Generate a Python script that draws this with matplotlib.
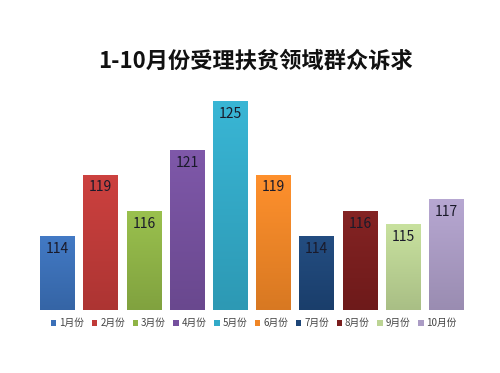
import numpy as np
import matplotlib
matplotlib.use("Agg")
import matplotlib.pyplot as plt
from matplotlib.patches import Patch
from matplotlib.colors import LinearSegmentedColormap, to_rgb

plt.rcParams['font.family'] = ['Noto Sans CJK SC', 'DejaVu Sans']

# data
months = ['1月份', '2月份', '3月份', '4月份', '5月份',
          '6月份', '7月份', '8月份', '9月份', '10月份']
counts = [114, 119, 116, 121, 125, 119, 114, 116, 115, 117]
colors = ['#3b70b8', '#c03a38', '#8fb446', '#75509e', '#32aac8',
          '#f08626', '#1d4577', '#7a1d1d', '#bcd494', '#ab9cc5']
title = '1-10月份受理扶贫领域群众诉求'

fig = plt.figure(figsize=(5, 3.73), dpi=100)
ax = fig.add_axes([0.072, 0.169, 0.864, 0.594])

x = np.arange(len(months))
bars = ax.bar(x, counts, width=0.81, color=colors, zorder=2)

# vertical gradient for each bar (slightly lighter top, darker bottom)
grad = np.linspace(0, 1, 100).reshape(-1, 1)
for b, c in zip(bars, colors):
    r, g, bl = to_rgb(c)
    light = tuple(min(1, v * 1.04 + 0.02) for v in (r, g, bl))
    dark = tuple(v * 0.9 for v in (r, g, bl))
    cmap = LinearSegmentedColormap.from_list('g', [dark, light])
    x0 = b.get_x()
    im = ax.imshow(grad, cmap=cmap, aspect='auto', origin='lower',
                   extent=[x0, x0 + b.get_width(), 108, b.get_height()],
                   zorder=3)
    im.set_clip_path(b)
    b.set_facecolor('none')

for xi, v in zip(x, counts):
    ax.text(xi, v - 1.05, str(v), ha='center', va='center',
            fontsize=10, color='#1a1a2a', zorder=4)

ax.set_xlim(-0.5, 9.5)
ax.set_ylim(108, 126)
ax.axis('off')

fig.text(0.51, 0.835, title, ha='center', va='center',
         fontsize=16, fontweight='semibold', color='#111111')

handles = [Patch(facecolor=c, edgecolor='none') for c in colors]
fig.legend(handles, months, loc='center', bbox_to_anchor=(0.508, 0.134),
           ncol=10, frameon=False, fontsize=7, handlelength=0.55,
           handleheight=0.55, handletextpad=0.3, columnspacing=0.78,
           labelcolor='#444444')

fig.savefig('out.png', dpi=100, facecolor='white')
